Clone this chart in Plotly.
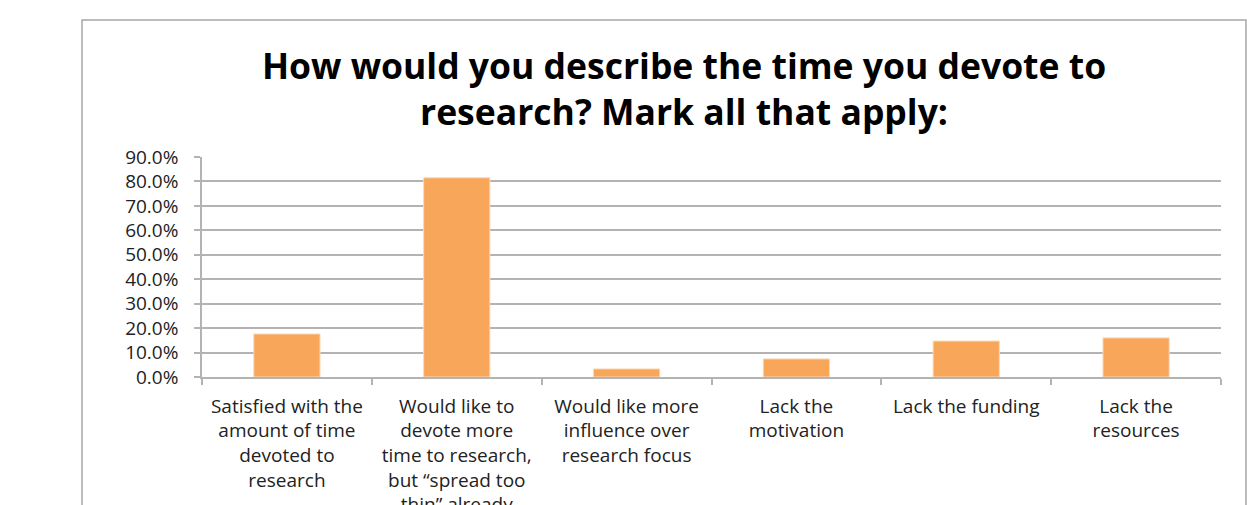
import plotly.graph_objects as go

# Survey responses (share of respondents, multiple answers allowed)
categories = [
    "Satisfied with the<br>amount of time<br>devoted to<br>research",
    "Would like to<br>devote more<br>time to research,<br>but “spread too<br>thin” already",
    "Would like more<br>influence over<br>research focus",
    "Lack the<br>motivation",
    "Lack the funding",
    "Lack the<br>resources",
]
shares = [0.176, 0.815, 0.033, 0.074, 0.147, 0.160]

y_ticks = [0.0, 0.1, 0.2, 0.3, 0.4, 0.5, 0.6, 0.7, 0.8, 0.9]

title_text = "How would you describe the time you devote to<br>research? Mark all that apply:"

FONT = "Open Sans"
GRID = "#b3b3b3"
W, H = 1247, 505
L, R, T, B = 202, 26, 157, 128
pw, ph = W - L - R, H - T - B

fig = go.Figure(
    go.Bar(
        x=categories,
        y=shares,
        marker=dict(color="#f8a65a", line=dict(color="#fbd9b8", width=1)),
        width=0.39,
    )
)

# outer chart frame (extends past the bottom edge of the page)
def px_x(v):
    return (v - L) / pw

def px_y(v):
    return (H - B - v) / ph

fig.add_shape(
    type="rect", xref="paper", yref="paper",
    x0=px_x(82), x1=px_x(1246), y0=px_y(540), y1=px_y(20),
    line=dict(color="#a6a6a6", width=1.5), fillcolor="rgba(0,0,0,0)", layer="below",
)

fig.update_layout(
    width=W, height=H,
    margin=dict(l=L, r=R, t=T, b=B, autoexpand=False),
    paper_bgcolor="white", plot_bgcolor="white",
    showlegend=False,
    title=dict(
        text=title_text,
        font=dict(family=FONT, size=35.5, color="#000000", weight="bold"),
        x=684 / W, xanchor="center", xref="container",
        y=1 - 79 / H, yanchor="top", yref="container",
    ),
    xaxis=dict(
        type="category",
        showgrid=False,
        showline=True, linecolor=GRID, linewidth=1.5,
        ticks="outside", tickson="boundaries", ticklen=6, tickcolor=GRID, tickwidth=1.5,
        tickfont=dict(family=FONT, size=19, color="#222222"),
        tickangle=0,
        ticklabelstandoff=11,
        automargin=False,
    ),
    yaxis=dict(
        range=[0, 0.9],
        tickmode="array", tickvals=y_ticks,
        tickformat=".1%",
        showgrid=True, gridcolor=GRID, gridwidth=1.5,
        showline=True, linecolor=GRID, linewidth=1.5,
        ticks="outside", ticklen=6, tickcolor=GRID, tickwidth=1.5,
        tickfont=dict(family=FONT, size=19, color="#222222"),
        ticklabelstandoff=12,
        zeroline=False,
        automargin=False,
    ),
)

fig.write_html("out.html")
